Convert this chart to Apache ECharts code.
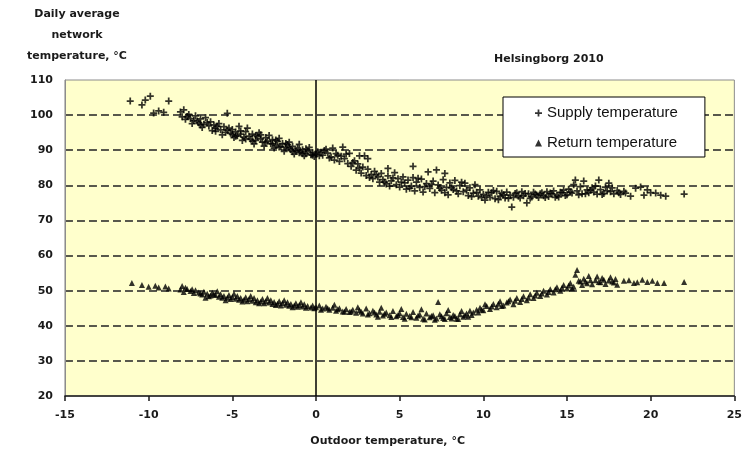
<!DOCTYPE html>
<html>
<head>
<meta charset="utf-8">
<script src="https://cdn.jsdelivr.net/npm/echarts@6/dist/echarts.min.js"></script>
<style>
  html, body { margin: 0; padding: 0; background: #ffffff; }
  #chart { width: 745px; height: 452px; }
</style>
</head>
<body>
<div id="chart"></div>
<script>
// Daily averages for 2010: [outdoor temperature °C, network temperature °C]
const supplyTemps = [
  [-11.1,104],[-10.4,102.9],[-10.2,104.3],[-9.9,105.4],[-9.7,100.6],[-9.4,101.2],[-9.1,100.8],[-8.8,104],
  [-8.1,100.9],[-8.0,99.5],[-7.9,101.5],[-7.8,98.8],[-7.7,99.6],[-7.6,100.2],[-7.5,99.0],[-7.4,97.6],[-7.3,98.5],
  [-7.2,99.8],[-7.1,98.3],[-7.0,97.8],[-6.9,98.9],[-6.9,97.2],[-6.8,96.5],[-6.7,97.4],[-6.6,99.3],[-6.5,97.9],
  [-6.4,96.9],[-6.3,98.1],[-6.2,95.6],[-6.1,97.2],[-6.0,96.2],[-6.0,95.4],[-5.9,96.8],[-5.8,97.6],[-5.7,95.8],
  [-5.6,94.4],[-5.5,96.7],[-5.4,95.1],[-5.3,100.5],[-5.3,95.7],[-5.2,96.3],[-5.1,94.8],[-5.0,95.9],[-5.0,94.5],
  [-4.9,93.6],[-4.8,95.2],[-4.8,94.0],[-4.7,94.1],[-4.6,96.8],[-4.5,94.6],[-4.5,95.5],[-4.4,92.8],[-4.3,93.7],
  [-4.2,95.3],[-4.2,93.2],[-4.1,96.3],[-4.0,94.0],[-3.9,93.1],[-3.8,94.6],[-3.8,92.6],[-3.7,91.8],[-3.6,92.8],
  [-3.6,94.2],[-3.5,93.9],[-3.4,95.0],[-3.3,93.2],[-3.3,94.4],[-3.2,92.3],[-3.1,91.2],[-3.0,93.6],[-3.0,92.2],
  [-2.9,92.6],[-2.8,94.2],[-2.7,91.9],[-2.6,93.0],[-2.6,91.8],[-2.5,90.6],[-2.4,91.4],[-2.4,92.9],[-2.3,92.5],
  [-2.2,93.4],[-2.2,90.9],[-2.1,91.0],[-2.0,91.9],[-1.9,89.7],[-1.8,90.8],[-1.8,91.9],[-1.7,91.6],[-1.6,92.3],
  [-1.6,90.6],[-1.5,90.2],[-1.4,91.1],[-1.4,89.6],[-1.3,88.9],[-1.2,89.8],[-1.1,90.6],[-1.0,91.7],[-1.0,89.3],
  [-0.9,89.5],[-0.8,90.1],[-0.8,89.0],[-0.7,88.4],[-0.6,89.0],[-0.6,90.4],[-0.5,89.7],[-0.4,90.8],[-0.3,88.7],
  [-0.2,89.3],[-0.2,88.6],[-0.1,88.2],[0.0,88.9],[0.1,89.6],[0.2,88.4],
  [0.3,89.4],[0.4,88.6],[0.5,89.9],[0.6,90.3],[0.7,89.2],[0.8,87.8],[0.9,88.1],[1.0,90.6],[1.1,87.2],[1.2,89.0],
  [1.3,88.6],[1.4,86.8],[1.5,88.3],[1.6,90.9],[1.7,87.6],[1.8,88.9],[1.9,86.2],[2.0,89.1],[2.1,85.4],[2.2,86.5],
  [2.3,87.0],[2.4,84.3],[2.5,86.1],[2.6,88.4],[2.6,84.9],[2.7,83.5],[2.8,85.2],[2.9,88.4],[3.0,82.8],[3.1,87.6],
  [3.1,84.6],[3.2,82.2],[3.3,83.1],[3.4,81.9],[3.5,84.0],[3.6,83.0],[3.7,82.4],[3.8,80.9],[3.9,83.4],[4.0,81.6],
  [4.1,80.9],[4.2,80.4],[4.3,84.8],[4.3,82.7],[4.4,79.8],[4.5,81.3],[4.6,82.1],[4.7,83.6],[4.8,80.2],[4.9,81.9],
  [5.0,79.5],[5.1,80.9],[5.2,82.4],[5.3,80.7],[5.4,78.9],[5.5,81.5],[5.6,79.2],[5.7,79.8],[5.8,85.4],[5.8,82.2],
  [5.9,78.4],[6.0,80.9],[6.1,82.0],[6.2,79.4],[6.3,81.8],[6.4,78.1],[6.5,79.6],[6.6,80.5],[6.7,83.8],[6.8,79.1],
  [6.9,80.3],[7.0,81.2],[7.1,77.9],[7.2,84.4],[7.3,80.1],[7.4,79.2],[7.5,78.6],[7.6,81.6],[7.7,83.4],[7.7,77.9],
  [7.8,79.4],[7.9,77.3],[8.0,80.7],[8.1,79.3],[8.2,78.8],[8.3,81.4],[8.4,78.4],[8.5,77.6],[8.6,79.9],[8.7,80.9],
  [8.8,78.2],[8.9,80.6],[9.0,78.6],[9.1,77.1],[9.2,79.3],[9.3,76.8],[9.4,77.8],[9.5,80.2],[9.6,78.0],[9.7,76.9],
  [9.8,78.7],[9.9,76.5],[10.0,77.4],[10.1,75.8],[10.2,77.0],[10.3,78.0],[10.4,76.6],[10.5,77.9],[10.6,78.5],
  [10.7,76.2],[10.8,78.3],[10.9,75.9],[11.0,76.9],[11.1,77.8],[11.2,77.3],[11.3,76.4],[11.4,78.1],[11.5,76.3],
  [11.6,77.2],[11.7,73.8],[11.8,76.6],[11.9,77.7],[12.0,77.9],[12.1,76.9],[12.2,76.4],[12.3,78.2],[12.4,77.0],
  [12.5,77.7],[12.6,75.0],[12.7,77.6],[12.8,76.3],[12.9,76.7],[13.0,78.0],[13.1,77.5],[13.2,77.2],[13.3,76.5],
  [13.4,77.6],[13.5,77.9],[13.6,77.0],[13.7,76.5],[13.8,78.2],[13.9,76.8],[14.0,77.8],[14.1,77.6],[14.2,78.4],
  [14.3,76.6],[14.4,77.1],[14.5,76.7],[14.6,78.0],[14.7,77.9],[14.8,78.6],[14.9,77.1],[15.0,77.3],[15.1,78.9],
  [15.2,78.1],[15.3,77.8],[15.4,80.2],[15.5,81.5],[15.6,78.4],[15.7,77.3],[15.8,79.6],[15.9,77.6],[16.0,81.2],
  [16.1,77.6],[16.2,78.7],[16.3,77.9],[16.4,78.6],[16.5,79.3],[16.6,78.1],[16.7,79.8],[16.8,77.5],[16.9,81.5],
  [17.0,78.8],[17.1,77.4],[17.2,77.7],[17.3,79.5],[17.4,78.4],[17.5,80.6],[17.6,78.2],[17.7,79.3],[17.8,77.6],
  [18.0,78.5],[18.1,77.9],[18.2,77.4],[18.4,78.3],[18.5,77.8],[18.8,76.9],[19.1,79.2],[19.4,79.5],[19.6,77.2],
  [19.8,78.7],[20.0,77.9],[20.3,77.8],[20.6,77.2],[20.9,76.9],[22.0,77.5]
];

const returnTemps = [
  [-11.0,52.2],[-10.4,51.6],[-10.0,51.1],[-9.6,51.4],[-9.4,50.9],[-9.0,51.2],[-8.8,50.6],[-8.1,50.3],[-8.0,51.3],
  [-7.9,49.6],[-7.8,50.8],[-7.7,50.5],[-7.5,49.9],[-7.4,50.4],[-7.3,49.3],[-7.2,50.1],[-7.0,49.5],[-6.9,49.2],
  [-6.8,48.9],[-6.7,49.7],[-6.6,48.0],[-6.5,49.1],[-6.4,48.4],[-6.3,48.6],[-6.2,49.4],[-6.1,49.0],[-6.0,48.8],
  [-5.9,49.8],[-5.8,48.3],[-5.7,49.0],[-5.6,48.0],[-5.5,48.5],[-5.4,47.3],[-5.3,48.0],[-5.2,48.8],[-5.1,47.6],
  [-5.0,48.2],[-4.9,49.1],[-4.8,47.7],[-4.7,48.5],[-4.6,47.4],[-4.5,47.9],[-4.4,46.9],[-4.3,47.4],[-4.2,48.1],
  [-4.1,47.0],[-4.0,47.6],[-3.9,48.5],[-3.8,47.1],[-3.7,47.9],[-3.6,46.7],[-3.5,47.3],[-3.4,46.4],[-3.3,46.9],
  [-3.2,47.6],[-3.1,46.4],[-3.0,47.0],[-2.9,47.9],[-2.8,46.6],[-2.7,47.3],[-2.6,46.2],[-2.5,46.8],[-2.4,45.9],
  [-2.3,46.3],[-2.2,47.0],[-2.1,45.8],[-2.0,46.5],[-1.9,47.3],[-1.8,46.0],[-1.7,46.7],[-1.6,45.7],[-1.5,46.2],
  [-1.4,45.3],[-1.3,45.8],[-1.2,46.4],[-1.1,45.4],[-1.0,45.9],[-0.9,46.7],[-0.8,45.5],[-0.7,46.1],[-0.6,45.1],
  [-0.5,45.6],[-0.3,45.2],[-0.2,45.8],[-0.1,45.0],[0.0,45.3],
  [0.2,45.8],[0.3,44.6],[0.4,44.9],[0.6,45.4],[0.7,45.0],[0.8,44.6],[1.0,45.1],[1.1,46.0],[1.2,44.3],[1.3,44.7],
  [1.4,45.0],[1.6,44.1],[1.7,44.0],[1.8,44.8],[2.0,43.9],[2.1,44.1],[2.2,44.6],[2.4,43.7],[2.5,45.3],[2.6,44.4],
  [2.7,44.0],[2.8,43.5],[3.0,44.9],[3.1,43.2],[3.2,43.6],[3.4,44.3],[3.5,43.8],[3.6,43.2],[3.7,42.6],[3.8,44.0],
  [3.9,45.1],[4.0,42.9],[4.1,43.4],[4.2,43.8],[4.4,43.0],[4.5,42.5],[4.6,44.2],[4.8,42.7],[4.9,43.1],[5.0,43.6],
  [5.1,44.8],[5.2,42.5],[5.3,42.0],[5.4,43.4],[5.6,42.8],[5.7,42.4],[5.8,43.9],[6.0,42.3],[6.1,42.9],[6.2,43.2],
  [6.3,44.7],[6.4,42.0],[6.5,41.8],[6.6,43.5],[6.8,42.4],[6.9,42.8],[7.0,43.0],[7.1,41.7],[7.2,42.1],[7.3,46.8],
  [7.4,43.3],[7.5,42.7],[7.6,42.2],[7.7,41.9],[7.8,43.6],[7.9,44.5],[8.0,42.5],[8.1,42.1],[8.2,43.1],[8.3,42.8],
  [8.4,42.0],[8.5,41.9],[8.6,43.3],[8.7,44.2],[8.8,42.6],[8.9,43.0],[9.0,43.5],[9.1,42.6],[9.2,44.3],[9.3,43.1],
  [9.4,43.8],[9.6,44.6],[9.7,43.8],[9.8,45.1],[9.9,44.6],[10.0,44.4],
  [10.1,46.1],[10.2,45.6],[10.4,44.8],[10.5,45.5],[10.6,46.2],[10.8,45.3],[10.9,46.3],[11.0,47.0],[11.1,45.6],
  [11.2,45.8],[11.4,46.6],[11.5,47.0],[11.6,47.5],[11.8,46.1],[11.9,47.1],[12.0,47.9],[12.2,46.8],[12.3,47.6],
  [12.4,48.4],[12.6,47.3],[12.7,48.0],[12.8,49.0],[13.0,47.9],[13.1,48.6],[13.2,49.4],[13.4,48.5],[13.5,49.2],
  [13.6,50.0],[13.8,48.9],[13.9,49.6],[14.0,50.4],[14.2,49.5],[14.3,50.4],[14.4,51.0],[14.6,50.0],[14.7,50.8],
  [14.8,51.6],[15.0,50.6],[15.1,51.5],[15.2,52.2],[15.3,50.7],[15.4,51.1],[15.5,54.5],[15.6,55.9],[15.7,52.8],
  [15.8,52.6],[15.9,51.6],[16.0,53.4],[16.1,52.6],[16.2,52.1],[16.3,54.2],[16.4,53.0],[16.5,51.8],[16.7,53.0],
  [16.8,54.0],[16.9,52.5],[17.0,52.4],[17.1,53.6],[17.2,53.1],[17.3,51.9],[17.5,52.9],[17.6,53.8],[17.7,52.6],
  [17.8,52.3],[17.9,53.3],[18.0,51.7],[18.4,52.8],[18.7,53.0],[19.0,52.2],[19.2,52.4],[19.5,53.1],[19.8,52.5],
  [20.1,52.8],[20.4,52.2],[20.8,52.2],[22.0,52.5]
];

const seriesNames = ['Supply temperature', 'Return temperature'];
const chartTitle = 'Helsingborg 2010';
const xAxisTitle = 'Outdoor temperature, °C';
const yAxisTitle = 'Daily average\nnetwork\ntemperature, °C';

const plusSymbol = 'path://M3,0H5V3H8V5H5V8H3V5H0V3H3Z';
const boldFont = 'DejaVu Sans';

const chart = echarts.init(document.getElementById('chart'), null, { renderer: 'canvas' });

chart.setOption({
  animation: false,
  backgroundColor: '#ffffff',
  title: {
    text: chartTitle,
    left: 494,
    top: 54,
    padding: 0,
    textStyle: { fontFamily: boldFont, fontWeight: 'bold', fontSize: 11, color: '#1a1a1a' }
  },
  legend: {
    orient: 'vertical',
    left: 503,
    top: 97,
    padding: [7, 27, 5, 32],
    itemGap: 12,
    itemWidth: 7,
    itemHeight: 7,
    backgroundColor: '#ffffff',
    borderColor: '#000000',
    borderWidth: 1,
    textStyle: { fontFamily: 'Liberation Sans', fontSize: 15, lineHeight: 18, color: '#111111' },
    data: [
      { name: seriesNames[0], icon: plusSymbol },
      { name: seriesNames[1], icon: 'triangle' }
    ]
  },
  grid: {
    left: 63,
    right: 8,
    top: 80,
    bottom: 56,
    show: true,
    backgroundColor: '#FFFFCC',
    borderColor: '#8c8c8c',
    borderWidth: 1
  },
  xAxis: {
    type: 'value',
    min: -15,
    max: 25,
    interval: 5,
    name: xAxisTitle,
    nameLocation: 'middle',
    nameGap: 40,
    nameTextStyle: { fontFamily: boldFont, fontWeight: 'bold', fontSize: 11, color: '#1a1a1a', padding: [0, 24, 0, 0] },
    axisLine: { onZero: false, lineStyle: { color: '#1a1a1a', width: 1.5 } },
    axisTick: { show: true, length: 5, lineStyle: { color: '#1a1a1a', width: 1.5 } },
    axisLabel: { margin: 14, fontFamily: boldFont, fontWeight: 'bold', fontSize: 11, color: '#1a1a1a' },
    splitLine: { show: false }
  },
  yAxis: {
    type: 'value',
    min: 20,
    max: 110,
    interval: 10,
    name: yAxisTitle,
    nameLocation: 'end',
    nameGap: 13,
    nameTextStyle: { fontFamily: boldFont, fontWeight: 'bold', fontSize: 11, lineHeight: 21, color: '#1a1a1a', align: 'center', padding: [0, 0, 0, 24] },
    axisLine: { show: true, onZero: false, lineStyle: { color: '#8c8c8c', width: 1 } },
    axisTick: { show: false },
    axisLabel: { margin: 12, fontFamily: boldFont, fontWeight: 'bold', fontSize: 11, color: '#1a1a1a' },
    splitLine: { show: true, showMinLine: false, showMaxLine: false, lineStyle: { color: '#222222', width: 1.6, type: [8, 4] } }
  },
  series: [
    {
      name: seriesNames[0],
      type: 'scatter',
      data: supplyTemps,
      symbol: plusSymbol,
      symbolSize: 7,
      itemStyle: { color: '#000000' },
      markLine: {
        silent: true,
        symbol: 'none',
        label: { show: false },
        lineStyle: { color: '#000000', width: 1.5, type: 'solid' },
        data: [{ xAxis: 0 }]
      }
    },
    {
      name: seriesNames[1],
      type: 'scatter',
      data: returnTemps,
      symbol: 'triangle',
      symbolSize: 6,
      itemStyle: { color: '#000000' }
    }
  ]
});
</script>
</body>
</html>
